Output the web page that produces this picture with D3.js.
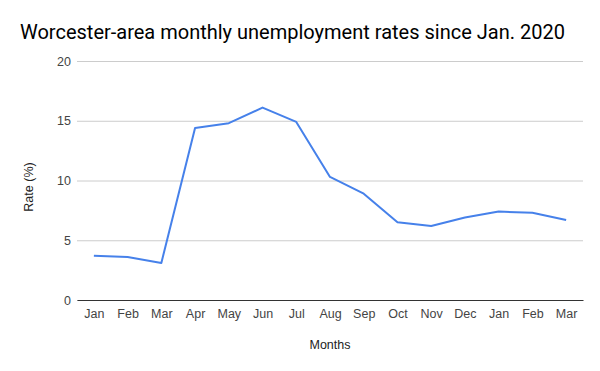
<!DOCTYPE html>
<html lang="en">
<head>
    <meta charset="UTF-8">
    <title>Worcester-area unemployment</title>
    <style>
    body { margin: 0; background: #fff; }
    svg { display: block; font-family: Roboto, Arial, sans-serif; }
    </style>
    <script src="https://cdn.jsdelivr.net/npm/d3@7"></script>
</head>
<body>
    <svg width="600" height="371"></svg>
    <script>
        var months = ["Jan", "Feb", "Mar", "Apr", "May", "Jun", "Jul", "Aug",
                      "Sep", "Oct", "Nov", "Dec", "Jan", "Feb", "Mar"];
        var rates = [3.7, 3.6, 3.1, 14.4, 14.8, 16.1, 14.9, 10.3,
                     8.9, 6.5, 6.2, 6.9, 7.4, 7.3, 6.7];
        var yTicks = [0, 5, 10, 15, 20];

        var svg = d3.select("svg"),
            plotLeft = 77, plotRight = 583, plotTop = 61, plotBottom = 300;

        var x = d3.scalePoint()
            .domain(d3.range(months.length))
            .range([plotLeft, plotRight])
            .padding(0.5);

        var y = d3.scaleLinear()
            .domain([0, 20])
            .range([plotBottom, plotTop]);

        svg.append("text")
            .attr("x", 20).attr("y", 39)
            .attr("font-size", 20)
            .attr("fill", "#000")
            .text("Worcester-area monthly unemployment rates since Jan. 2020");

        // grid + y labels
        var yAxis = svg.append("g")
            .attr("transform", "translate(" + plotLeft + ",0)")
            .call(d3.axisLeft(y).tickValues(yTicks).tickSize(-(plotRight - plotLeft)).tickPadding(6));
        yAxis.select(".domain").remove();
        yAxis.selectAll(".tick line").attr("stroke", "#ccc");
        yAxis.selectAll(".tick text").attr("fill", "#444").attr("font-size", 12.5)
            .attr("font-family", "Arial, 'Liberation Sans', sans-serif");

        // x axis
        var xAxis = svg.append("g")
            .attr("transform", "translate(0," + plotBottom + ")")
            .call(d3.axisBottom(x).tickSize(0).tickPadding(9)
                .tickFormat(function(i) { return months[i]; }));
        xAxis.select(".domain").attr("stroke", "#333");
        xAxis.selectAll(".tick text").attr("fill", "#444").attr("font-size", 12.5)
            .attr("font-family", "Arial, 'Liberation Sans', sans-serif");

        var line = d3.line()
            .x(function(d, i) { return x(i); })
            .y(function(d) { return y(d); });

        svg.append("path")
            .datum(rates)
            .attr("fill", "none")
            .attr("stroke", "#4681ea")
            .attr("stroke-width", 2)
            .attr("stroke-linejoin", "round")
            .attr("d", line);

        svg.append("text")
            .attr("x", (plotLeft + plotRight) / 2).attr("y", 349)
            .attr("text-anchor", "middle")
            .attr("font-size", 12.5)
            .attr("font-family", "Arial, 'Liberation Sans', sans-serif")
            .attr("fill", "#222")
            .text("Months");

        svg.append("text")
            .attr("transform", "translate(33,187) rotate(-90)")
            .attr("text-anchor", "middle")
            .attr("font-size", 12.5)
            .attr("font-family", "Arial, 'Liberation Sans', sans-serif")
            .attr("fill", "#222")
            .text("Rate (%)");
    </script>
</body>
</html>
